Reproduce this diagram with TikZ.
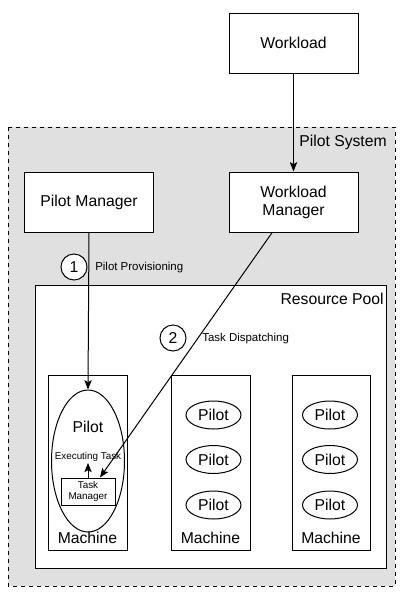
\documentclass[tikz,border=0pt]{standalone}
\usepackage{fontspec}
\setmainfont{Liberation Sans}
\usetikzlibrary{arrows.meta,shapes.geometric}
\definecolor{sysgray}{RGB}{224,224,224}

\begin{document}
\begin{tikzpicture}[x=0.75pt,y=0.75pt,yscale=-1,xscale=1,
	bigtxt/.style={font=\fontsize{11.8}{13.5}\selectfont},
	smalltxt/.style={font=\fontsize{8.6}{10}\selectfont},
	tinytxt/.style={font=\fontsize{7.4}{9}\selectfont},
	boxnode/.style={draw,fill=white,line width=0.75pt,minimum width=96.75pt,minimum height=45pt,align=center,inner sep=0.75pt,bigtxt},
	pilotnode/.style={draw,ellipse,fill=white,line width=0.75pt,minimum width=41.25pt,minimum height=21pt,inner sep=0pt,bigtxt},
	stepnum/.style={draw,circle,fill=white,line width=0.75pt,minimum size=19.5pt,inner sep=0pt,bigtxt},
	arr/.style={line width=0.75pt,-{Stealth[length=7pt,width=5.5pt,inset=1.5pt]}}]
	\useasboundingbox (0,0) rectangle (401,597);
	% pilot system and resource pool
	\draw [dashed,fill=sysgray,line width=0.75pt] (8,127) rectangle (395,586);
	\node [anchor=east,inner sep=0.75pt,bigtxt] (syslbl) at (388,142) {Pilot System};
	\draw [fill=white,line width=0.75pt] (35,285) rectangle (386,568);
	\node [anchor=east,inner sep=0.75pt,bigtxt] (poollbl) at (385,299) {Resource Pool};
	% machines
	\draw [fill=white,line width=0.75pt] (48,375) rectangle (127,550);
	\draw [fill=white,line width=0.75pt] (171,375) rectangle (250,550);
	\draw [fill=white,line width=0.75pt] (292,375) rectangle (370,550);
	\node [inner sep=0.75pt,bigtxt] (mlbl1) at (87.5,538) {Machine};
	\node [inner sep=0.75pt,bigtxt] (mlbl2) at (210.5,538) {Machine};
	\node [inner sep=0.75pt,bigtxt] (mlbl3) at (331,538) {Machine};
	% boxes
	\node [boxnode] (wl) at (293.5,43) {Workload};
	\node [boxnode] (pm) at (89,202) {Pilot Manager};
	\node [boxnode] (wm) at (293.5,202) {Workload\\Manager};
	% pilots
	\node [draw,ellipse,line width=0.75pt,minimum width=54.75pt,minimum height=106.5pt,inner sep=0pt] (bigpilot) at (88,461) {};
	\node [inner sep=0.75pt,bigtxt] (pilotlbl) at (88,427) {Pilot};
	\node [inner sep=0.75pt,tinytxt] (exec) at (88,457) {Executing Task};
	\node [draw,fill=white,line width=0.75pt,minimum width=40.5pt,minimum height=20.25pt,inner sep=0.5pt,align=center,tinytxt] (tm) at (88,491.5) {Task\\[-1pt]Manager};
	\foreach \y [count=\i] in {415,459.5,505} {
		\node [pilotnode] (pa\i) at (213.5,\y) {Pilot};
		\node [pilotnode] (pb\i) at (330,\y) {Pilot};
	}
	% connectors
	\draw [arr] (wl) -- (wm);
	\draw [arr] (pm.south) -- (bigpilot.north);
	\draw [arr] ([xshift=-16pt]wm.south) -- ([xshift=9pt]tm.north);
	\draw [arr] (tm.north) -- (exec.south);
	% steps
	\node [stepnum] (s1) at (74,267) {1};
	\node [anchor=west,inner sep=0.75pt,smalltxt] (s1lbl) at (94,268) {Pilot Provisioning};
	\node [stepnum] (s2) at (173,338) {2};
	\node [anchor=west,inner sep=0.75pt,smalltxt] (s2lbl) at (201,339) {Task Dispatching};
\end{tikzpicture}
\end{document}
